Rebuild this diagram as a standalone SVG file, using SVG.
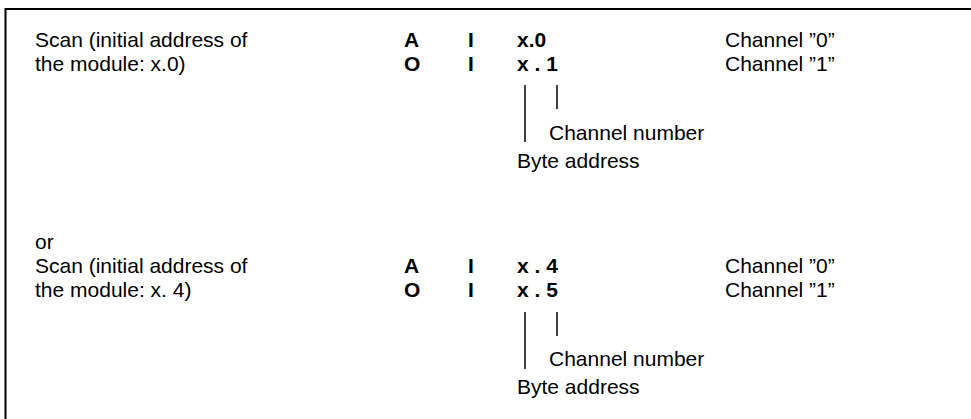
<svg xmlns="http://www.w3.org/2000/svg" width="971" height="419" viewBox="0 0 971 419">
<style>
text{font-family:"Liberation Sans",Arial,sans-serif;font-size:21px;fill:#000}
.b{font-weight:bold}
.ln{stroke:#000;stroke-width:1.5;fill:none}
.frame{stroke:#000;stroke-width:2;fill:none}
</style>
<rect width="971" height="419" fill="#fff"/>
<path class="frame" d="M5.5,430 V9 H980"/>
<g id="block1">
<text x="35" y="47">Scan (initial address of</text>
<text x="35" y="71">the module: x.0)</text>
<text class="b" x="404" y="47">A</text>
<text class="b" x="468" y="47">I</text>
<text class="b" x="517" y="47">x.0</text>
<text x="725" y="47">Channel ”0”</text>
<text class="b" x="404" y="71">O</text>
<text class="b" x="468" y="71">I</text>
<text class="b" x="517" y="71">x . 1</text>
<text x="725" y="71">Channel ”1”</text>
<text x="549" y="140">Channel number</text>
<text x="517" y="168">Byte address</text>
</g>
<text x="35" y="249">or</text>
<g id="block2">
<text x="35" y="273">Scan (initial address of</text>
<text x="35" y="297">the module: x. 4)</text>
<text class="b" x="404" y="273">A</text>
<text class="b" x="468" y="273">I</text>
<text class="b" x="517" y="273">x . 4</text>
<text x="725" y="273">Channel ”0”</text>
<text class="b" x="404" y="297">O</text>
<text class="b" x="468" y="297">I</text>
<text class="b" x="517" y="297">x . 5</text>
<text x="725" y="297">Channel ”1”</text>
<text x="549" y="366">Channel number</text>
<text x="517" y="394">Byte address</text>
</g>
<g id="connectors">
<line class="ln" x1="525" y1="85" x2="525" y2="142"/>
<line class="ln" x1="557" y1="85" x2="557" y2="109"/>
<line class="ln" x1="525" y1="312" x2="525" y2="369"/>
<line class="ln" x1="557" y1="312" x2="557" y2="336"/>
</g>
</svg>
